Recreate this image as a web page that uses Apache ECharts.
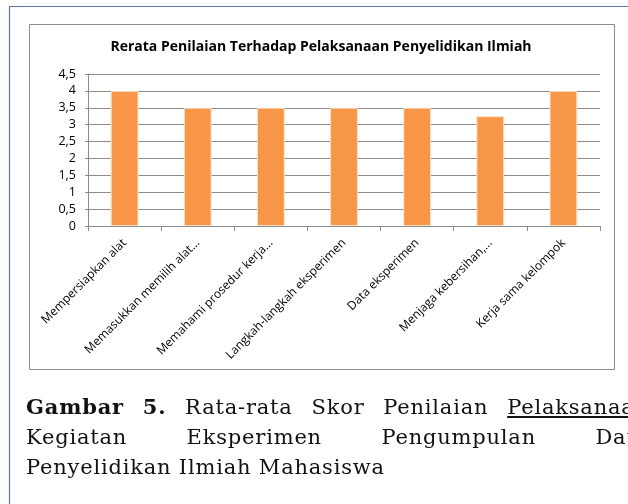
<!DOCTYPE html>
<html>
<head>
<meta charset="utf-8">
<script src="https://cdn.jsdelivr.net/npm/echarts@6/dist/echarts.min.js"></script>
<style>
  html, body { margin: 0; padding: 0; background: #fff; overflow: hidden; }
  #chart { position: absolute; left: 0; top: 0; width: 628px; height: 504px; }
  .caption {
    position: absolute;
    left: 26px;
    top: 392px;
    width: 623px;
    font-family: "DejaVu Serif", "Liberation Serif", serif;
    font-size: 21px;
    letter-spacing: 0.8px;
    line-height: 30px;
    color: #111;
  }
  .caption .row { display: flex; justify-content: space-between; white-space: nowrap; }
  .caption .last { white-space: nowrap; }
</style>
</head>
<body>
<div id="chart"></div>
<div class="caption">
  <div class="row"><span><b>Gambar</b></span><span><b>5.</b></span><span>Rata-rata</span><span>Skor</span><span>Penilaian</span><span><u>Pelaksanaan</u></span></div>
  <div class="row"><span>Kegiatan</span><span>Eksperimen</span><span>Pengumpulan</span><span>Data</span></div>
  <div class="last">Penyelidikan Ilmiah Mahasiswa</div>
</div>
<script>
  // judul dan data
  const chartTitle = "Rerata Penilaian Terhadap Pelaksanaan Penyelidikan Ilmiah";
  const categories = [
    "Mempersiapkan alat",
    "Memasukkan memilih alat…",
    "Memahami prosedur kerja…",
    "Langkah-langkah eksperimen",
    "Data eksperimen",
    "Menjaga kebersihan,…",
    "Kerja sama kelompok"
  ];
  const scores = [4, 3.5, 3.5, 3.5, 3.5, 3.25, 4];
  const yTicks = [0, 0.5, 1, 1.5, 2, 2.5, 3, 3.5, 4, 4.5];

  const font = "'Open Sans', 'Noto Sans', sans-serif";
  const chart = echarts.init(document.getElementById("chart"));

  chart.setOption({
    animation: false,
    graphic: [
      {
        // bingkai luar
        type: "rect",
        shape: { x: 9.5, y: 6.5, width: 700, height: 600 },
        style: { fill: "none", stroke: "#5a74a8", lineWidth: 1.2 },
        silent: true
      },
      {
        // bingkai grafik
        type: "rect",
        shape: { x: 29.5, y: 24.5, width: 585, height: 345 },
        style: { fill: "#fff", stroke: "#8c8c8c", lineWidth: 1 },
        silent: true,
        z: -1
      },
      {
        type: "text",
        x: 321,
        y: 47,
        style: {
          text: chartTitle,
          font: "bold 14px " + font,
          fill: "#000",
          align: "center",
          verticalAlign: "middle"
        }
      }
    ],
    grid: { left: 88, right: 28, top: 74, bottom: 278 },
    xAxis: {
      type: "category",
      data: categories,
      axisLine: { lineStyle: { color: "#8c8c8c" } },
      axisTick: { show: true, length: 5, lineStyle: { color: "#8c8c8c" } },
      axisLabel: {
        rotate: 45,
        interval: 0,
        margin: 15,
        fontSize: 12,
        fontFamily: font,
        color: "#000"
      }
    },
    yAxis: {
      type: "value",
      min: yTicks[0],
      max: yTicks[yTicks.length - 1],
      interval: 0.5,
      axisLine: { show: true, lineStyle: { color: "#8c8c8c" } },
      axisTick: { show: true, length: 3, lineStyle: { color: "#8c8c8c" } },
      splitLine: { lineStyle: { color: "#8c8c8c" } },
      axisLabel: {
        margin: 12,
        fontSize: 12.5,
        fontFamily: font,
        color: "#000",
        formatter: (v) => String(v).replace(".", ",")
      }
    },
    series: [
      {
        type: "bar",
        data: scores,
        barWidth: "38%",
        itemStyle: {
          color: "#f79646",
          borderColor: "#fde0c8",
          borderWidth: 1
        }
      }
    ]
  });
</script>
</body>
</html>
